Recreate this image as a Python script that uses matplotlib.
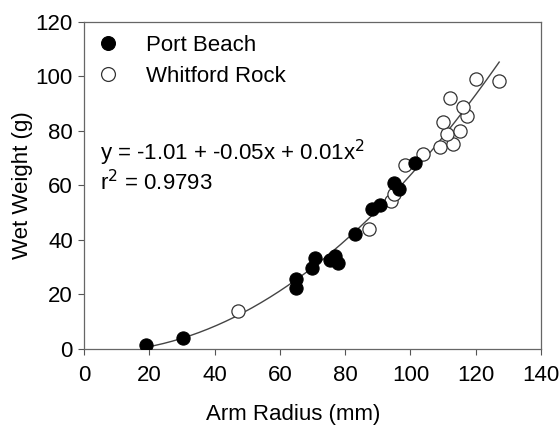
import numpy as np
import matplotlib.pyplot as plt

plt.rcParams['font.family'] = ['Liberation Sans', 'DejaVu Sans']

# Port Beach (filled)
port_x = [18.9, 30.2, 65.1, 65.1, 69.9, 70.8, 75.3, 76.9, 77.9, 83.0,
          88.1, 90.7, 95.0, 96.5, 101.4]
port_y = [1.5, 4.1, 25.6, 22.4, 29.6, 33.4, 32.6, 34.2, 31.6, 42.2,
          51.4, 52.6, 60.8, 58.7, 68.1]

# Whitford Rock (open)
whit_x = [47.1, 87.3, 94.2, 95.0, 98.3, 103.9, 109.0, 113.1, 111.1, 115.2,
          110.1, 117.2, 116.2, 112.1, 120.0, 127.2]
whit_y = [13.7, 43.9, 54.2, 56.9, 67.5, 71.6, 74.0, 75.2, 79.0, 80.0,
          83.2, 85.6, 88.9, 91.9, 99.1, 98.2]

equation = 'y = -1.01 + -0.05x + 0.01x$^2$'
r2_text = 'r$^2$ = 0.9793'

fs = 16

fig = plt.figure(figsize=(5.6, 4.28), dpi=100)
ax = fig.add_axes([0.150, 0.185, 0.816, 0.764])

# quadratic fit over the pooled data
all_x = np.array(port_x + whit_x)
all_y = np.array(port_y + whit_y)
coef = np.polyfit(all_x, all_y, 2)
xs = np.linspace(all_x.min(), all_x.max(), 200)
ax.plot(xs, np.polyval(coef, xs), color='#444444', lw=1.0, zorder=1)

ax.plot(port_x, port_y, 'o', ms=9.5, mfc='black', mec='black', mew=0.8,
        ls='none', label='Port Beach', zorder=3)
ax.plot(whit_x, whit_y, 'o', ms=9.5, mfc='white', mec='#333333', mew=0.9,
        ls='none', label='Whitford Rock', zorder=2)

ax.set_xlim(0, 140)
ax.set_ylim(0, 120)
ax.set_xticks(np.arange(0, 141, 20))
ax.set_yticks(np.arange(0, 121, 20))
ax.tick_params(labelsize=fs, length=4, width=0.8, color='#555555',
               direction='out', top=False, right=False)
ax.tick_params(axis='x', pad=8)
ax.tick_params(axis='y', pad=4)
for s in ax.spines.values():
    s.set_color('#666666')
    s.set_linewidth(0.9)

ax.set_xlabel('Arm Radius (mm)', fontsize=fs)
ax.set_ylabel('Wet Weight (g)', fontsize=fs)
ax.xaxis.set_label_coords(0.457, -0.168)
ax.yaxis.set_label_coords(-0.112, 0.5)

ax.text(4.8, 71.9, equation, fontsize=fs, va='center', ha='left')
ax.text(4.8, 60.9, r2_text, fontsize=fs, va='center', ha='left')

ax.legend(loc='upper left', frameon=False, fontsize=fs, handlelength=1.0,
          handletextpad=1.2, borderaxespad=0.2, borderpad=0.4,
          labelspacing=0.45, markerscale=1.05)

fig.savefig('out.png', dpi=100)
